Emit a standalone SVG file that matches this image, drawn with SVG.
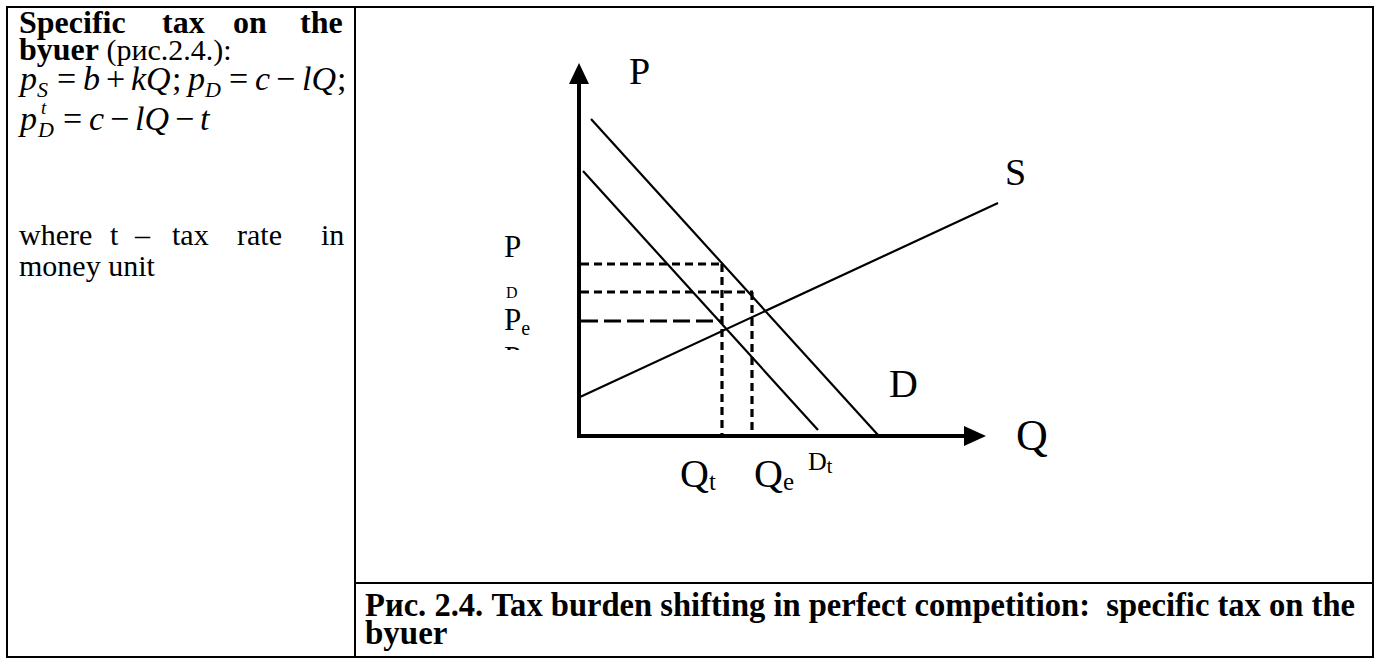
<svg xmlns="http://www.w3.org/2000/svg" width="1383" height="659" viewBox="0 0 1383 659">
<style>
.t{font-family:"Liberation Serif","Times New Roman",serif;fill:#000}
.b{font-weight:bold}
.i{font-style:italic}
.f{font-size:34px}
.sb{font-size:22px;font-style:italic}
.ax{stroke:#000;stroke-width:4;fill:none}
.ln{stroke:#000;stroke-width:2.2;fill:none}
.ds{stroke:#000;stroke-width:3.2;fill:none;stroke-dasharray:8 5}
.dl{stroke:#000;stroke-width:3.2;fill:none;stroke-dasharray:17 6}
.bd{stroke:#000;stroke-width:2;fill:none}
</style>
<defs>
<clipPath id="cut"><rect x="490" y="330" width="60" height="20"/></clipPath>
</defs>
<rect width="1383" height="659" fill="#fff"/>
<g id="table">
<rect class="bd" x="7" y="7" width="1366" height="650"/>
<line class="bd" x1="355" y1="7" x2="355" y2="657"/>
<line class="bd" x1="355" y1="583" x2="1373" y2="583"/>
</g>
<g id="left-text">
<text class="t b" font-size="32" y="33"><tspan x="19">Specific</tspan><tspan x="162">tax</tspan><tspan x="233">on</tspan><tspan x="300">the</tspan></text>
<text class="t" font-size="30" y="60"><tspan x="19" class="b" font-size="32">byuer</tspan><tspan> (рис.2.4.):</tspan></text>
<g id="formula1">
<text class="t i f" x="20" y="90">p</text>
<text class="t sb" x="37" y="97">S</text>
<text class="t f" x="57" y="90">=</text>
<text class="t i f" x="83" y="90">b</text>
<text class="t f" x="106" y="90">+</text>
<text class="t i f" x="131" y="90">kQ</text>
<text class="t f" x="172" y="90">;</text>
<text class="t i f" x="188" y="90">p</text>
<text class="t sb" x="205" y="97">D</text>
<text class="t f" x="229" y="90">=</text>
<text class="t i f" x="255" y="90">c</text>
<text class="t f" x="276" y="90">−</text>
<text class="t i f" x="302" y="90">lQ</text>
<text class="t f" x="337" y="90">;</text>
</g>
<g id="formula2">
<text class="t i f" x="20" y="130">p</text>
<text class="t i" x="41" y="114" font-size="19">t</text>
<text class="t sb" x="38" y="137">D</text>
<text class="t f" x="63" y="130">=</text>
<text class="t i f" x="89" y="130">c</text>
<text class="t f" x="110" y="130">−</text>
<text class="t i f" x="135" y="130">lQ</text>
<text class="t f" x="175" y="130">−</text>
<text class="t i f" x="200" y="130">t</text>
</g>
<text class="t" font-size="30" y="245"><tspan x="19">where</tspan><tspan x="110">t</tspan><tspan x="135">–</tspan><tspan x="172">tax</tspan><tspan x="237">rate</tspan><tspan x="321">in</tspan></text>
<text class="t" font-size="30" x="19" y="276">money unit</text>
</g>
<g id="axes">
<line class="ax" x1="579" y1="438" x2="579" y2="80"/>
<polygon points="579,63 569,84 589,84" fill="#000"/>
<line class="ax" x1="577" y1="436" x2="966" y2="436"/>
<polygon points="986,436 964,426 964,446" fill="#000"/>
</g>
<g id="curves">
<line id="S-line" class="ln" x1="580" y1="397" x2="998" y2="203"/>
<line id="D-line" class="ln" x1="591" y1="119" x2="878" y2="435"/>
<line id="Dt-line" class="ln" x1="583" y1="171" x2="818" y2="430"/>
</g>
<g id="dashes">
<line class="ds" x1="581" y1="264" x2="723" y2="264"/>
<line class="ds" x1="581" y1="292" x2="753" y2="292"/>
<line class="dl" x1="581" y1="321" x2="722" y2="321"/>
<line class="ds" x1="722" y1="264" x2="722" y2="435"/>
<line class="ds" x1="752" y1="292" x2="752" y2="435"/>
</g>
<g id="labels">
<text class="t" x="629" y="84" font-size="38">P</text>
<text class="t" x="1005" y="185" font-size="38">S</text>
<text class="t" x="889" y="397" font-size="40">D</text>
<text class="t" x="1016" y="450" font-size="44">Q</text>
<text class="t" x="504" y="257" font-size="31">P</text>
<text class="t" x="506" y="298" font-size="16">D</text>
<text class="t" x="504" y="330" font-size="31">P<tspan font-size="20" dy="5">e</tspan></text>
<text class="t" x="504" y="368" font-size="31" clip-path="url(#cut)">P</text>
<text class="t" x="680" y="487" font-size="40">Q<tspan font-size="25" dy="3">t</tspan></text>
<text class="t" x="754" y="487" font-size="40">Q<tspan font-size="25" dy="3">e</tspan></text>
<text class="t" x="808" y="470" font-size="26">D<tspan font-size="20" dy="3">t</tspan></text>
</g>
<g id="caption">
<text class="t b" font-size="33" x="365" y="616" textLength="990" lengthAdjust="spacingAndGlyphs" xml:space="preserve">Рис. 2.4. Tax burden shifting in perfect competition:  specific tax on the</text>
<text class="t b" font-size="33" x="365" y="644">byuer</text>
</g>
</svg>
